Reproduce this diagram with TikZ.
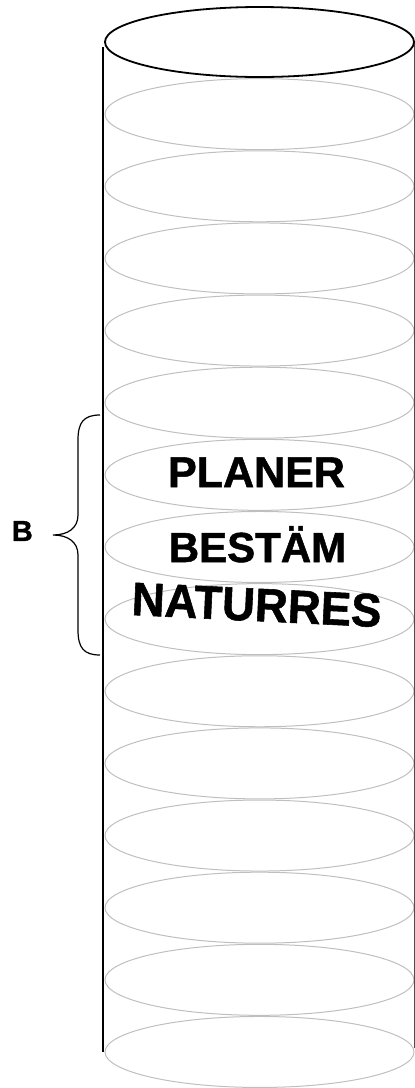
\documentclass[tikz,border=0pt]{standalone}
\usepackage{fontspec}
\setsansfont{Liberation Sans}
\newfontfamily\heavyfont[FakeBold=1.2]{Liberation Sans}
\usetikzlibrary{positioning}

\tikzset{ring/.style = {draw = gray!50, line width = 1pt},
         word/.style = {font = \heavyfont\bfseries, inner sep = 0pt, anchor = base}}

\begin{document}
\begin{tikzpicture}[x = 1pt, y = -1pt]
\useasboundingbox (0,0) rectangle (415,1088);
% the rings inside the tube
\foreach \k in {1,...,14}
  \path[ring] (259.5,42+72.14*\k) ellipse [x radius = 154.5, y radius = 35.5];
% sides and lid
\draw[line width = 2pt] (103,47) -- (103,1052);
\draw[line width = 0.8pt, black!70] (414,42) -- (414,1048);
\draw[line width = 1.8pt] (259.5,42) ellipse [x radius = 154.5, y radius = 35];
% words
\node[word] (planer) at (256.5,487) {\fontsize{43}{43}\selectfont PLANER};
\node[word] (bestam) at (257.5,562) {\fontsize{42}{42}\selectfont BESTÄM};
\node[word, xscale = 0.97, rotate = -2.7] (naturres) at (256,621) {\fontsize{47}{47}\selectfont NATURRES};
% brace and its label
\coordinate (btop) at (100,415);
\coordinate (tip) at (53,535);
\coordinate (bbot) at (100,655);
\draw[line width = 1.2pt] (btop) .. controls (84,415) and (78,422) .. (78,440) -- (78,515)
  .. controls (78,528) and (68,535) .. (tip)
  .. controls (68,535) and (78,542) .. (78,555) -- (78,630)
  .. controls (78,648) and (84,655) .. (bbot);
\node[font = \heavyfont\bfseries\fontsize{29}{29}\selectfont, inner sep = 0pt, left = 20pt of tip, yshift = 4pt] (b) {B};
\end{tikzpicture}
\end{document}
